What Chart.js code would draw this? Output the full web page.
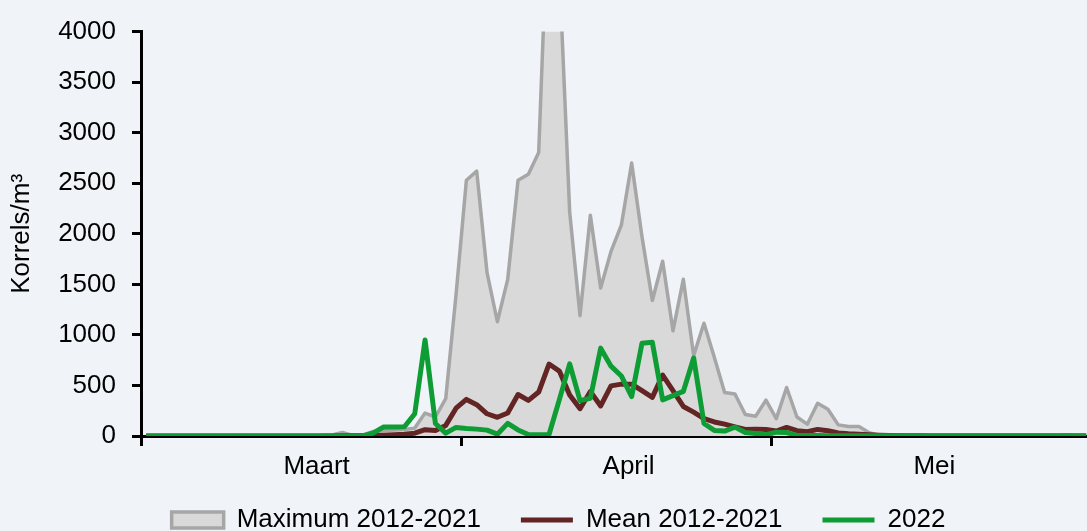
<!DOCTYPE html>
<html>
<head>
<meta charset="utf-8">
<script src="https://cdn.jsdelivr.net/npm/chart.js@4"></script>
<style>
  html, body { margin: 0; padding: 0; background: #f0f3f8; overflow: hidden; }
</style>
</head>
<body>
<canvas id="pollenChart" width="1087" height="531"></canvas>
<script>
// dagwaarden 1 maart t/m 31 mei (index 0 = 1 maart)
const maxVals = [
  0, 0, 0, 0, 0, 0, 5, 0, 0, 5,
  0, 0, 0, 0, 0, 0, 0, 5, 10, 35,
  5, 10, 45, 55, 60, 65, 78, 227, 188, 370,
  1400, 2530, 2620, 1615, 1130, 1550, 2530, 2590, 2805, 5500,
  4600, 2215, 1190, 2183, 1463, 1826, 2085, 2700, 1970, 1340,
  1729, 1040, 1550, 795, 1115, 780, 430, 415, 212, 195,
  355, 172, 480, 188, 117, 324, 265, 110, 93, 95,
  32, 5, 3, 10, 0, 0, 0, 0, 0, 0,
  0, 0, 0, 0, 0, 0, 0, 0, 0, 10,
  0, 0
];
const meanVals = [
  0, 0, 0, 0, 0, 0, 0, 0, 0, 0,
  0, 0, 0, 0, 0, 0, 0, 0, 1, 2,
  2, 3, 5, 8, 12, 18, 28, 62, 55, 105,
  275, 362, 310, 220, 185, 228, 410, 352, 435, 712,
  642, 405, 270, 440, 297, 496, 513, 513, 448, 382,
  603, 448, 292, 236, 172, 139, 117, 90, 65, 68,
  65, 49, 85, 52, 42, 65, 52, 30, 22, 18,
  12, 8, 5, 3, 2, 2, 1, 1, 1, 1,
  1, 1, 1, 1, 1, 1, 1, 1, 1, 1,
  1, 1
];
const vals2022 = [
  0, 0, 0, 0, 0, 0, 0, 0, 0, 0,
  0, 0, 0, 0, 0, 0, 0, 0, 0, 0,
  0, 0, 30, 90, 90, 92, 220, 950, 124, 28,
  85, 75, 68, 58, 18, 125, 60, 15, 12, 15,
  360, 713, 350, 373, 869, 691, 594, 390, 918, 927,
  357, 399, 441, 772, 124, 55, 49, 88, 35, 25,
  12, 38, 34, 5, 4, 4, 3, 3, 3, 3,
  3, 3, 3, 3, 3, 3, 3, 3, 3, 3,
  3, 3, 3, 3, 3, 3, 3, 3, 3, 3,
  3, 3
];
const monthLabels = ['Maart', 'April', 'Mei'];
const monthBounds = [-0.5, 30.5, 60.5, 91.5];
const monthLabelPos = [16.5, 46.7, 76.3];
const yTicks = [0, 500, 1000, 1500, 2000, 2500, 3000, 3500, 4000];

const FONT = '"Liberation Sans", Arial, sans-serif';
const toPoints = arr => arr.map((v, i) => ({ x: i, y: v }));

// legenda: lage box voor de layout, daarna iets omhoog schuiven
const legendPlace = {
  id: 'legendPlace',
  beforeInit(chart) {
    const fit = chart.legend.fit;
    chart.legend.fit = function () {
      fit.bind(chart.legend)();
      this.height = 50;
    };
  },
  afterLayout(chart) {
    chart.legend.top = 467;
    chart.legend.bottom = 531;
  }
};

new Chart(document.getElementById('pollenChart').getContext('2d'), {
  type: 'line',
  data: {
    datasets: [
      {
        label: 'Maximum 2012-2021', data: toPoints(maxVals), order: 3,
        borderColor: '#a6a6a6', backgroundColor: '#d9d9d9', borderWidth: 3.5,
        fill: 'origin', pointRadius: 0, pointStyle: 'rect', tension: 0, borderJoinStyle: 'round'
      },
      {
        label: 'Mean 2012-2021', data: toPoints(meanVals), order: 2,
        borderColor: '#632523', backgroundColor: '#632523', borderWidth: 5,
        fill: false, pointRadius: 0, pointStyle: 'line', tension: 0, borderJoinStyle: 'round'
      },
      {
        label: '2022', data: toPoints(vals2022), order: 1,
        borderColor: '#0e9c34', backgroundColor: '#0e9c34', borderWidth: 5,
        fill: false, pointRadius: 0, pointStyle: 'line', tension: 0, borderJoinStyle: 'round'
      }
    ]
  },
  options: {
    responsive: false,
    animation: false,
    devicePixelRatio: 1,
    events: [],
    layout: { padding: { left: 30, right: 0, top: 25, bottom: 0 } },
    plugins: {
      tooltip: { enabled: false },
      legend: {
        position: 'bottom',
        labels: {
          usePointStyle: true, pointStyleWidth: 52, boxHeight: 16, padding: 40,
          color: '#000', font: { family: FONT, size: 26 },
          sort: (a, b) => a.datasetIndex - b.datasetIndex
        }
      }
    },
    scales: {
      x: {
        type: 'linear', min: -0.5, max: 91.08,
        afterBuildTicks: s => {
          s.ticks = monthBounds.concat(monthLabelPos)
            .filter(v => v <= s.max)
            .sort((a, b) => a - b)
            .map(v => ({ value: v }));
        },
        afterFit: s => { s.height = 45; },
        ticks: {
          autoSkip: false, maxRotation: 0, padding: 5, color: '#000',
          font: { family: FONT, size: 26 },
          callback: v => {
            const k = monthLabelPos.indexOf(v);
            return k >= 0 ? monthLabels[k] : '';
          }
        },
        grid: {
          drawOnChartArea: false, tickLength: 10, tickWidth: 3,
          tickColor: c => monthBounds.includes(c.tick.value) ? '#000' : 'rgba(0,0,0,0)'
        },
        border: { color: '#000', width: 3 }
      },
      y: {
        min: 0, max: 4000,
        afterBuildTicks: s => { s.ticks = yTicks.map(v => ({ value: v })); },
        afterFit: s => { s.width = 111; },
        ticks: {
          padding: 16, color: '#000', font: { family: FONT, size: 26 },
          callback: v => String(v)
        },
        grid: { drawOnChartArea: false, tickLength: 9, tickWidth: 3, tickColor: '#000' },
        border: { color: '#000', width: 3 },
        title: {
          display: true, text: 'Korrels/m³', color: '#000',
          font: { family: FONT, size: 26 }, padding: { top: -24, bottom: 0 }
        }
      }
    }
  },
  plugins: [legendPlace]
});
</script>
</body>
</html>
